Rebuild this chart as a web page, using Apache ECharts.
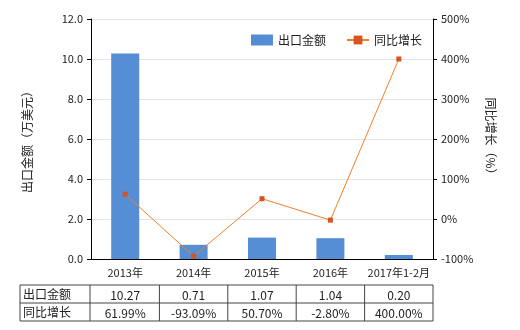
<!DOCTYPE html>
<html><head><meta charset="utf-8">
<script src="https://cdn.jsdelivr.net/npm/echarts@6/dist/echarts.min.js"></script>
<style>html,body{margin:0;padding:0;background:#fff}#c{width:520px;height:330px}</style>
</head><body><div id="c"></div>
<script>
var categories = ['2013年','2014年','2015年','2016年','2017年1-2月'];
var exportValues = [10.27, 0.71, 1.07, 1.04, 0.20];
var growthValues = [61.99, -93.09, 50.70, -2.80, 400.00];
var exportLabels = ['10.27','0.71','1.07','1.04','0.20'];
var growthLabels = ['61.99%','-93.09%','50.70%','-2.80%','400.00%'];
var seriesNames = ['出口金额','同比增长'];

var FONT = '"Noto Sans CJK SC", "Noto Sans", sans-serif';
var G = {left:91, right:87, top:19, bottom:71};
var W = 520, H = 330;
var plotW = W - G.left - G.right;
var bandW = plotW / categories.length;
var tableLeft = 20, headerRight = 90;
var rowY = [285, 303, 321];

var graphics = [];
rowY.forEach(function(y){
  graphics.push({type:'line', shape:{x1:tableLeft, y1:y, x2:G.left+plotW, y2:y}, style:{stroke:'#444', lineWidth:1}});
});
var xs = [tableLeft, headerRight];
for (var i=1;i<=categories.length;i++) xs.push(G.left + bandW*i);
xs.forEach(function(x){
  graphics.push({type:'line', shape:{x1:x, y1:rowY[0], x2:x, y2:rowY[2]}, style:{stroke:'#444', lineWidth:1}});
});
[seriesNames[0], seriesNames[1]].forEach(function(t, r){
  graphics.push({type:'text', x:tableLeft+3, y:(rowY[r]+rowY[r+1])/2, style:{text:t, font:'12px '+FONT, fill:'#222', textVerticalAlign:'middle'}});
});
[exportLabels, growthLabels].forEach(function(arr, r){
  arr.forEach(function(t, i){
    graphics.push({type:'text', x:G.left + bandW*(i+0.5), y:(rowY[r]+rowY[r+1])/2+1, style:{text:t, font:'12px '+FONT, fill:'#222', textAlign:'center', textVerticalAlign:'middle'}});
  });
});

var chart = echarts.init(document.getElementById('c'), null, {renderer:'canvas'});
chart.setOption({
  animation:false,
  backgroundColor:'#fff',
  textStyle:{fontFamily:FONT},
  grid:{left:G.left, right:G.right, top:G.top, bottom:G.bottom, containLabel:false},
  legend:{
    top:29, left:246, itemGap:20, itemWidth:22, itemHeight:11,
    textStyle:{fontSize:12, color:'#222', fontFamily:FONT},
    data:[{name:seriesNames[0], icon:'rect'}, {name:seriesNames[1]}]
  },
  xAxis:{
    type:'category', data:categories,
    axisLine:{lineStyle:{color:'#000'}},
    axisTick:{alignWithLabel:true, length:4, lineStyle:{color:'#000'}},
    axisLabel:{interval:0, fontSize:11, color:'#222', margin:8, fontFamily:FONT}
  },
  yAxis:[{
    type:'value', min:0, max:12, interval:2,
    name:'出口金额（万美元）', nameLocation:'middle', nameGap:58, nameRotate:90,
    nameTextStyle:{fontSize:12, color:'#222', fontFamily:FONT},
    axisLine:{show:true, lineStyle:{color:'#000'}},
    axisTick:{show:true, length:4, lineStyle:{color:'#000'}},
    axisLabel:{fontSize:11, color:'#222', formatter:function(v){return v.toFixed(1);}, fontFamily:FONT},
    splitLine:{lineStyle:{color:'#e4e4e4'}}
  },{
    type:'value', min:-100, max:500, interval:100,
    name:'同比增长（%）', nameLocation:'middle', nameGap:50, nameRotate:-90,
    nameTextStyle:{fontSize:12, color:'#222', fontFamily:FONT},
    axisLine:{show:true, lineStyle:{color:'#000'}},
    axisTick:{show:true, length:4, lineStyle:{color:'#000'}},
    axisLabel:{fontSize:11, color:'#222', formatter:'{value}%', fontFamily:FONT},
    splitLine:{show:false}
  }],
  series:[{
    name:seriesNames[0], type:'bar', data:exportValues, barWidth:28,
    itemStyle:{color:'#558ed5'}
  },{
    name:seriesNames[1], type:'line', yAxisIndex:1, data:growthValues,
    symbol:'rect', symbolSize:5,
    lineStyle:{color:'#f07f2a', width:1},
    itemStyle:{color:'#d9531e'}
  }],
  graphic:graphics
});
</script>
</body></html>
